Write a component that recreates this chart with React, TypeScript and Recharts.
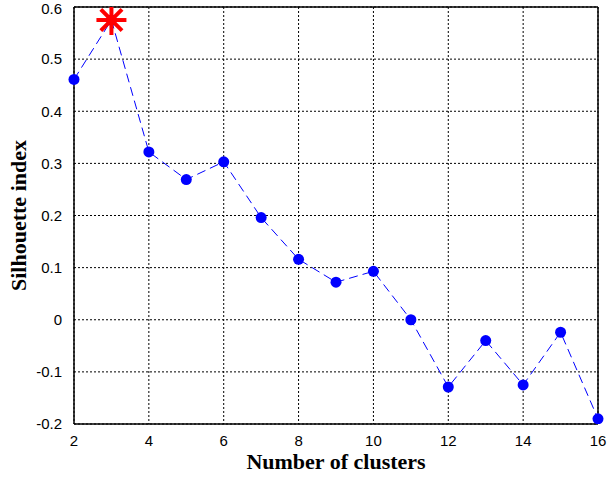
import React from 'react';
import { ComposedChart, Line, XAxis, YAxis, CartesianGrid, ReferenceLine } from 'recharts';

const clusters = [2, 3, 4, 5, 6, 7, 8, 9, 10, 11, 12, 13, 14, 15, 16];
const silhouette = [0.461, 0.575, 0.322, 0.269, 0.303, 0.196, 0.116, 0.072, 0.093, 0.0, -0.129, -0.04, -0.125, -0.024, -0.19];
const xTicks = [2, 4, 6, 8, 10, 12, 14, 16];
const yTicks = [-0.2, -0.1, 0, 0.1, 0.2, 0.3, 0.4, 0.5, 0.6];

const data = clusters.map((k, i) => ({ k, s: silhouette[i] }));
const bestIdx = silhouette.indexOf(Math.max(...silhouette));

const Dot = (props: any) => {
  const { cx, cy, index } = props;
  if (cx == null || cy == null) return null;
  if (index === bestIdx) {
    const r = 15;
    const d = r * Math.SQRT1_2;
    return (
      <g key={`d${index}`}>
        <circle cx={cx} cy={cy} r={5.5} fill="#0000ff" />
        <g stroke="#ff0000" strokeWidth={4}>
          <line x1={cx - r} y1={cy} x2={cx + r} y2={cy} />
          <line x1={cx} y1={cy - r} x2={cx} y2={cy + r} />
          <line x1={cx - d} y1={cy - d} x2={cx + d} y2={cy + d} />
          <line x1={cx - d} y1={cy + d} x2={cx + d} y2={cy - d} />
        </g>
      </g>
    );
  }
  return <circle key={`d${index}`} cx={cx} cy={cy} r={5.5} fill="#0000ff" />;
};

const tickStyle = { fontFamily: 'Liberation Sans, Arial, sans-serif', fontSize: 15, fill: '#000' };
const titleStyle = { fontFamily: 'Liberation Serif, Times New Roman, serif', fontWeight: 'bold', fontSize: 22, fill: '#000' };

export default function App() {
  return (
    <div style={{ position: 'absolute', left: 0, top: 0, background: '#fff' }}>
      <ComposedChart width={607} height={479} data={data} margin={{ top: 7, right: 9, bottom: 25, left: 0 }}>
        <CartesianGrid stroke="#000" strokeDasharray="2 2" strokeWidth={1} />
        <XAxis
          dataKey="k"
          type="number"
          domain={[2, 16]}
          ticks={xTicks}
          tickLine={false}
          axisLine={{ stroke: '#000', strokeWidth: 1.5 }}
          tick={tickStyle}
          tickMargin={5}
          height={30}
          label={{ value: 'Number of clusters', position: 'insideBottom', offset: -15, style: titleStyle }}
        />
        <YAxis
          type="number"
          domain={[-0.2, 0.6]}
          ticks={yTicks}
          tickLine={false}
          axisLine={{ stroke: '#000', strokeWidth: 1.5 }}
          tick={tickStyle}
          tickMargin={6}
          width={74}
          allowDataOverflow
          tickFormatter={(v: number) => String(Math.round(v * 10) / 10)}
          label={{ value: 'Silhouette index', angle: -90, position: 'insideLeft', offset: 18, style: { ...titleStyle, textAnchor: 'middle' } }}
        />
        <ReferenceLine y={0.6} stroke="#000" strokeWidth={1.5} />
        <ReferenceLine x={16} stroke="#000" strokeWidth={1.5} />
        <Line
          dataKey="s"
          stroke="#0000ff"
          strokeWidth={1}
          strokeDasharray="9 5"
          dot={Dot}
          activeDot={false}
          isAnimationActive={false}
        />
      </ComposedChart>
    </div>
  );
}
